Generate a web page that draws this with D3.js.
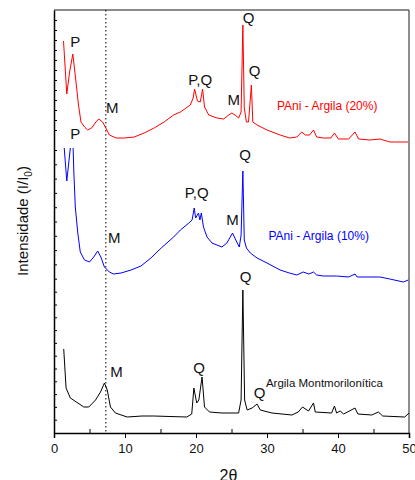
<!DOCTYPE html>
<meta charset="utf-8">
<html>
<script src="https://d3js.org/d3.v7.min.js"></script>
<style>
  body { margin: 0; background: #fff; }
  text { font-family: "Liberation Sans", Arial, sans-serif; }
</style>
<body>
<div id="chart"></div>
<script>

// 2-theta / intensity (arbitrary units, curves are stacked)
const pani20 = [[1.34,392],[1.8,339],[2.2,361],[2.65,379],[3.1,351],[3.45,328],[3.8,311],[4.3,306],[4.75,303],[5.3,305],[5.9,311],[6.3,314],[6.85,311],[7.3,305],[7.8,298],[8.75,295],[9.9,295],[11.3,296],[12.7,300],[14.1,305],[15.5,311],[16.85,318],[17.8,321],[19.2,328],[19.6,335],[19.8,344],[20.2,332],[20.6,331],[20.93,344],[21.2,326],[21.8,318],[22.95,315],[23.9,314],[24.6,318],[25.05,320],[25.5,318],[26.0,315],[26.35,321],[26.6,408],[26.8,325],[27.1,311],[27.4,311],[27.8,348],[28.0,311],[28.6,308],[30.0,303],[31.85,298],[33.2,295],[34.2,296],[34.9,301],[35.4,298],[36.0,298],[36.55,303],[37.0,296],[37.95,295],[39.0,295],[39.5,300],[40.05,294],[41.5,294],[42.4,301],[42.9,294],[44.5,293],[45.9,294],[47.3,291],[49.9,291]];

const pani10 = [[1.3,298],[1.8,252],[2.3,285],[2.45,323],[2.7,283],[2.8,260],[3.0,226],[3.35,200],[3.7,181],[4.3,173],[5.0,171],[5.6,176],[6.15,182],[6.6,176],[7.1,166],[7.8,161],[8.4,159],[9.45,160],[10.85,163],[12.25,167],[13.65,175],[15.1,185],[16.85,196],[17.8,203],[19.0,210],[19.45,213],[19.75,225],[19.95,215],[20.35,220],[20.55,213],[20.75,220],[21.05,206],[21.55,196],[22.25,190],[22.95,188],[23.65,186],[24.35,190],[25.15,200],[25.6,193],[26.1,186],[26.35,198],[26.6,262],[26.8,193],[27.1,185],[27.65,180],[28.6,175],[30.0,170],[31.85,163],[33.15,160],[34.2,158],[35.1,161],[35.9,159],[36.55,161],[37.0,158],[37.95,157],[39.8,157],[41.5,156],[42.4,159],[42.7,156],[44.5,156],[45.9,156],[47.3,154],[49.2,151],[49.9,153]];

const argila = [[1.37,84],[1.7,45],[2.3,35],[4.2,26],[4.9,26],[5.85,33],[6.55,41],[7.1,50],[7.5,43],[7.95,26],[8.65,20],[10.3,16],[12.4,17],[14.0,17],[18.7,16],[19.4,19],[19.7,45],[20.1,30],[20.4,33],[20.85,56],[21.2,26],[21.9,21],[23.65,20],[26.0,20],[26.35,33],[26.6,143],[26.85,33],[27.2,23],[27.9,25],[28.6,29],[29.05,23],[30.7,20],[33.5,18],[34.4,21],[35.0,26],[35.85,22],[36.55,30],[36.8,21],[39.1,20],[39.5,27],[39.8,20],[40.3,22],[40.8,19],[42.4,25],[42.8,19],[44.75,18],[45.7,21],[46.3,17],[49.4,16],[50.0,20]];

// peak labels [text, 2theta, intensity]
const peaks = [
  ["P",3.0,391],["M",8.2,325],["P,Q",20.6,353],["M",25.3,333],["Q",27.4,415],["Q",28.25,362],
  ["P",3.0,299],["M",8.5,195],["P,Q",20.1,240],["M",25.15,213],["Q",26.9,278],
  ["M",8.8,61],["Q",20.45,65],["Q",27.0,156],["Q",28.95,40]
];

// series names [text, 2theta, intensity, colour]
const seriesLabels = [
  ["PAni - Argila (20%)",31.4,327,"#ff0000"],
  ["PAni - Argila (10%)",30.2,197,"#0000ff"],
  ["Argila Montmorilonítica",29.85,50,"#111"]
];

const xMajor = [0,10,20,30,40,50];
const xMinor = [5,15,25,35,45];
const mLine = 7.3;       // dotted reference line (2theta)
const blueTop = 285;     // blue curve cut off here

// y ticks of the three stacked layers
const yTicks = [].concat(
  d3.range(12).map(i => 413 - 10*i),
  d3.range(10).map(i => 283 - 14.3*i),
  d3.range(11).map(i => 141.3 - 12.8*i)
);

const margin = {top: 10, right: 6, bottom: 47, left: 54},
      width = 355,
      height = 423;

const svg = d3.select("#chart")
  .append("svg")
    .attr("width", 415)
    .attr("height", 480)
  .append("g")
    .attr("transform", `translate(${margin.left}, ${margin.top})`);

const x = d3.scaleLinear().domain([0, 50]).range([0, width]);
const y = d3.scaleLinear().domain([0, 423]).range([height, 0]);

// frame top / right
svg.append("line").attr("x1", 0).attr("x2", width).attr("y1", 0).attr("y2", 0)
  .attr("stroke", "#666").attr("stroke-width", 1.5);
svg.append("line").attr("x1", width).attr("x2", width).attr("y1", 0).attr("y2", height)
  .attr("stroke", "#444").attr("stroke-width", 1.2);

// x axis
const xAx = svg.append("g")
  .attr("transform", `translate(0, ${height})`)
  .call(d3.axisBottom(x).tickValues(xMajor).tickSize(5).tickPadding(6).tickFormat(d3.format("d")));
svg.append("g")
  .attr("transform", `translate(0, ${height})`)
  .call(d3.axisBottom(x).tickValues(xMinor).tickSize(-4).tickFormat(""))
  .select(".domain").remove();
xAx.selectAll("text").attr("font-size", 13).attr("fill", "#111")
  .style("font-family", "Liberation Sans, Arial, sans-serif");
xAx.select(".domain").attr("stroke-width", 1.5);

// y axis
const yAx = svg.append("g")
  .call(d3.axisLeft(y).tickValues(yTicks).tickSize(-3).tickFormat("").tickSizeOuter(0));
yAx.select(".domain").attr("stroke-width", 1.5);

// dotted line
svg.append("line")
  .attr("x1", x(mLine)).attr("x2", x(mLine))
  .attr("y1", 0).attr("y2", height)
  .attr("stroke", "#000").attr("stroke-width", 1)
  .attr("stroke-dasharray", "1.5,2.5");

const line = d3.line().x(d => x(d[0])).y(d => y(d[1]));

svg.append("clipPath").attr("id", "clipBlue")
  .append("rect").attr("x", 0).attr("y", y(blueTop))
  .attr("width", width).attr("height", height - y(blueTop));

svg.append("path").datum(argila).attr("d", line)
  .attr("fill", "none").attr("stroke", "#000").attr("stroke-width", 1);
svg.append("path").datum(pani10).attr("d", line)
  .attr("clip-path", "url(#clipBlue)")
  .attr("fill", "none").attr("stroke", "#0000ff").attr("stroke-width", 1);
svg.append("path").datum(pani20).attr("d", line)
  .attr("fill", "none").attr("stroke", "#ff0000").attr("stroke-width", 1);

// peak labels
svg.selectAll(".peak")
  .data(peaks)
  .join("text")
  .attr("class", "peak")
  .attr("x", d => x(d[1]))
  .attr("y", d => y(d[2]) + 5)
  .attr("text-anchor", "middle")
  .attr("font-size", 15)
  .attr("fill", "#111")
  .text(d => d[0]);

svg.selectAll(".slab")
  .data(seriesLabels)
  .join("text")
  .attr("class", "slab")
  .attr("x", d => x(d[1]))
  .attr("y", d => y(d[2]) + 4)
  .attr("font-size", d => d[0].startsWith("Argila") ? 11.5 : 12)
  .attr("fill", d => d[3])
  .text(d => d[0]);

// axis titles
svg.append("text")
  .attr("x", width / 2 - 3)
  .attr("y", height + 48)
  .attr("text-anchor", "middle")
  .attr("font-size", 16)
  .attr("fill", "#111")
  .text("2θ");

const yt = svg.append("text")
  .attr("transform", `translate(${-26}, ${211}) rotate(-90)`)
  .attr("text-anchor", "middle")
  .attr("font-size", 15)
  .attr("fill", "#111");
yt.append("tspan").text("Intensidade (I/I");
yt.append("tspan").attr("font-size", 10).attr("dy", 4).text("0");
yt.append("tspan").attr("dy", -4).text(")");

</script>
</body>
</html>
